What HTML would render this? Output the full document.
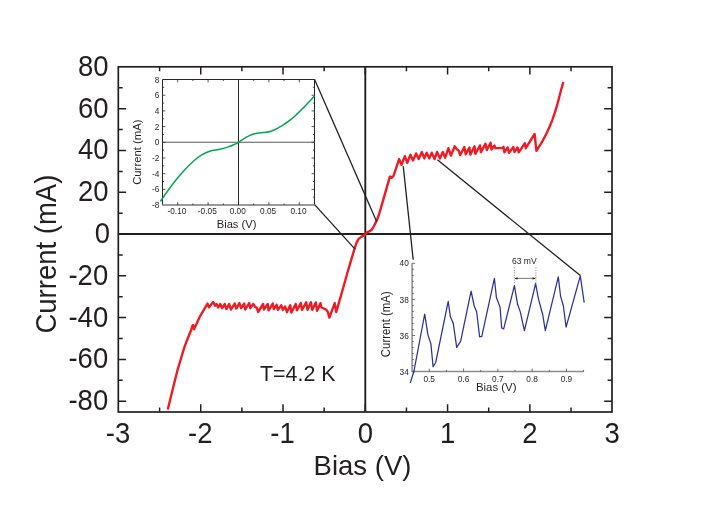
<!DOCTYPE html>
<html><head><meta charset="utf-8"><title>IV curve</title>
<style>html,body{margin:0;padding:0;background:#fff}body{width:708px;height:522px;overflow:hidden}</style></head>
<body>
<svg width="708" height="522" viewBox="0 0 708 522" style="display:block;will-change:transform;font-family:'Liberation Sans',sans-serif">
<rect width="708" height="522" fill="#fff"/>
<rect x="118.3" y="66.8" width="493.7" height="345.2" fill="none" stroke="#231f20" stroke-width="1.7"/>
<line x1="365.3" y1="66.8" x2="365.3" y2="412.0" stroke="#231f20" stroke-width="1.9"/>
<line x1="118.3" y1="234.05" x2="612.0" y2="234.05" stroke="#231f20" stroke-width="1.9"/>
<path d="M159.60 412.0v-4.4 M159.60 66.8v4.4 M200.74 412.0v-7.8 M200.74 66.8v7.8 M241.88 412.0v-4.4 M241.88 66.8v4.4 M283.02 412.0v-7.8 M283.02 66.8v7.8 M324.16 412.0v-4.4 M324.16 66.8v4.4 M365.30 412.0v-7.8 M365.30 66.8v7.8 M406.44 412.0v-4.4 M406.44 66.8v4.4 M447.58 412.0v-7.8 M447.58 66.8v7.8 M488.72 412.0v-4.4 M488.72 66.8v4.4 M529.86 412.0v-7.8 M529.86 66.8v7.8 M571.00 412.0v-4.4 M571.00 66.8v4.4 M118.3 401.17h7.8 M612.0 401.17h-7.8 M118.3 380.28h4.4 M612.0 380.28h-4.4 M118.3 359.39h7.8 M612.0 359.39h-7.8 M118.3 338.50h4.4 M612.0 338.50h-4.4 M118.3 317.61h7.8 M612.0 317.61h-7.8 M118.3 296.72h4.4 M612.0 296.72h-4.4 M118.3 275.83h7.8 M612.0 275.83h-7.8 M118.3 254.94h4.4 M612.0 254.94h-4.4 M118.3 234.05h7.8 M612.0 234.05h-7.8 M118.3 213.16h4.4 M612.0 213.16h-4.4 M118.3 192.27h7.8 M612.0 192.27h-7.8 M118.3 171.38h4.4 M612.0 171.38h-4.4 M118.3 150.49h7.8 M612.0 150.49h-7.8 M118.3 129.60h4.4 M612.0 129.60h-4.4 M118.3 108.71h7.8 M612.0 108.71h-7.8 M118.3 87.82h4.4 M612.0 87.82h-4.4" stroke="#231f20" stroke-width="1.5" fill="none"/>
<g font-size="27.5" fill="#231f20">
<text transform="translate(117.96 443.0) scale(1 1.075)" text-anchor="middle">-3</text>
<text transform="translate(200.24 443.0) scale(1 1.075)" text-anchor="middle">-2</text>
<text transform="translate(282.52 443.0) scale(1 1.075)" text-anchor="middle">-1</text>
<text transform="translate(365.30 443.0) scale(1 1.075)" text-anchor="middle">0</text>
<text transform="translate(447.58 443.0) scale(1 1.075)" text-anchor="middle">1</text>
<text transform="translate(529.86 443.0) scale(1 1.075)" text-anchor="middle">2</text>
<text transform="translate(612.14 443.0) scale(1 1.075)" text-anchor="middle">3</text>
<text transform="translate(108.2 410.07) scale(1 1.085)" text-anchor="end">-80</text>
<text transform="translate(108.2 368.29) scale(1 1.085)" text-anchor="end">-60</text>
<text transform="translate(108.2 326.51) scale(1 1.085)" text-anchor="end">-40</text>
<text transform="translate(108.2 284.73) scale(1 1.085)" text-anchor="end">-20</text>
<text transform="translate(110.1 242.95) scale(1 1.085)" text-anchor="end">0</text>
<text transform="translate(108.6 201.17) scale(1 1.085)" text-anchor="end">20</text>
<text transform="translate(108.6 159.39) scale(1 1.085)" text-anchor="end">40</text>
<text transform="translate(108.6 117.61) scale(1 1.085)" text-anchor="end">60</text>
<text transform="translate(108.6 75.83) scale(1 1.085)" text-anchor="end">80</text>
</g>
<text transform="translate(362.5 475.4) scale(1 1.03)" font-size="27.5" text-anchor="middle" fill="#231f20">Bias (V)</text>
<text transform="translate(55.9 254.1) rotate(-90) scale(1 1.06)" font-size="27.5" text-anchor="middle" fill="#231f20">Current (mA)</text>
<text x="260" y="380.9" font-size="21.4" fill="#231f20">T=4.2 K</text>
<polyline points="167.8,409.5 172.7,389.3 177.8,369.0 184.5,346.9 186.2,342.3 191.2,329.7 192.3,326.2 193.0,325.0 193.6,326.0 194.0,329.3 200.0,316.3 207.5,303.6 208.9,307.4 213.1,301.9 215.1,305.7 216.5,304.0 218.2,307.4 220.3,304.0 222.2,308.2 224.7,304.0 226.4,309.1 229.2,304.0 230.9,309.5 234.7,303.6 236.3,308.6 239.4,303.1 241.1,308.2 244.1,303.6 245.3,309.5 249.2,303.1 250.4,308.2 253.2,304.0 255.1,306.9 256.8,307.8 258.1,312.0 263.1,304.0 263.9,309.5 267.7,304.0 268.6,310.3 272.8,303.6 273.8,309.1 276.6,304.8 277.9,309.9 281.3,305.3 282.8,309.9 285.1,306.5 287.0,312.0 290.2,305.3 291.4,312.5 295.7,304.0 296.9,310.3 300.8,303.1 302.0,309.9 306.2,302.3 307.5,309.8 310.9,302.3 312.3,309.8 315.8,302.4 317.1,310.8 320.5,303.2 321.5,307.5 326.2,309.6 327.9,312.1 329.4,317.6 334.7,303.2 336.2,312.1 344.0,285.0 347.1,273.8 351.1,260.2 354.5,248.9 356.7,242.3 358.6,238.9 361.2,236.9 363.5,235.5 365.4,233.9 367.5,232.1 369.7,231.2 371.8,229.7 373.7,226.5 375.4,223.1 377.1,219.7 378.8,215.0 382.1,203.8 389.8,176.9 390.4,176.6 391.6,177.9 393.4,176.2 399.1,159.1 401.5,164.8 404.8,156.2 407.2,162.9 410.4,154.8 413.0,160.5 416.1,153.4 418.7,159.1 421.8,152.0 424.3,158.4 426.7,152.7 429.3,158.4 431.7,152.7 434.5,159.1 437.1,152.0 439.9,158.4 442.8,152.0 445.2,157.7 448.4,148.2 450.9,155.5 454.7,146.3 456.4,148.9 458.6,150.4 460.2,155.0 464.3,147.1 465.7,154.2 469.4,147.6 470.3,154.6 474.5,146.2 475.4,153.8 480.0,145.4 480.9,152.1 485.5,143.7 486.8,150.0 490.6,142.8 491.5,149.5 494.4,145.4 495.3,148.1 502.2,148.1 503.5,146.8 504.4,152.4 507.7,147.4 509.0,152.9 513.3,147.0 514.5,152.0 517.5,147.4 518.8,152.4 524.9,143.2 525.8,148.2 534.6,134.0 536.4,150.8 536.9,150.0 537.6,149.0 538.4,147.7 539.3,146.3 540.2,144.9 541.0,143.6 541.7,142.3 542.5,141.0 543.2,139.7 543.9,138.4 544.6,137.1 545.3,135.8 546.0,134.5 546.6,133.2 547.2,131.9 547.8,130.6 548.4,129.3 549.0,128.0 549.6,126.7 550.2,125.3 550.7,124.0 551.3,122.6 551.9,121.2 552.4,119.8 552.9,118.4 553.4,116.9 553.9,115.4 554.4,113.9 554.9,112.4 555.4,110.8 555.9,109.2 556.4,107.5 556.9,105.8 557.4,104.1 557.8,102.3 558.3,100.6 558.8,98.9 559.2,97.1 559.7,95.3 560.1,93.6 560.6,91.9 561.0,90.3 561.4,88.7 561.9,87.1 562.3,85.5 562.7,84.1 563.1,82.9 563.3,82.0" fill="none" stroke="#ed1c24" stroke-width="2.4" stroke-linejoin="round"/>
<g stroke="#231f20" stroke-width="1.3" fill="none">
<line x1="314.5" y1="79.3" x2="376.6" y2="221.4"/>
<line x1="314.4" y1="204.4" x2="354.8" y2="248.9"/>
<line x1="403.25" y1="166.3" x2="413.2" y2="259.8"/>
<line x1="437.4" y1="159.8" x2="580.3" y2="275.5"/>
</g>
<path d="M162.5 205.0V79.5H314.5V205.0" fill="none" stroke="#2b2627" stroke-width="1"/>
<line x1="162.0" y1="205.0" x2="315.0" y2="205.0" stroke="#77787b" stroke-width="1.5"/>
<line x1="238.5" y1="79.5" x2="238.5" y2="205.0" stroke="#2b2627" stroke-width="1"/>
<line x1="162.5" y1="142.3" x2="314.5" y2="142.3" stroke="#58595b" stroke-width="1.1"/>
<path d="M177.70 205.0v-2.9 M177.70 79.5v2.9 M192.90 205.0v-1.6 M192.90 79.5v1.6 M208.10 205.0v-2.9 M208.10 79.5v2.9 M223.30 205.0v-1.6 M223.30 79.5v1.6 M238.50 205.0v-2.9 M238.50 79.5v2.9 M253.70 205.0v-1.6 M253.70 79.5v1.6 M268.90 205.0v-2.9 M268.90 79.5v2.9 M284.10 205.0v-1.6 M284.10 79.5v1.6 M299.30 205.0v-2.9 M299.30 79.5v2.9 M162.5 197.21h1.6 M314.5 197.21h-1.6 M162.5 189.36h2.9 M314.5 189.36h-2.9 M162.5 181.52h1.6 M314.5 181.52h-1.6 M162.5 173.68h2.9 M314.5 173.68h-2.9 M162.5 165.83h1.6 M314.5 165.83h-1.6 M162.5 157.99h2.9 M314.5 157.99h-2.9 M162.5 150.14h1.6 M314.5 150.14h-1.6 M162.5 142.30h2.9 M314.5 142.30h-2.9 M162.5 134.46h1.6 M314.5 134.46h-1.6 M162.5 126.61h2.9 M314.5 126.61h-2.9 M162.5 118.77h1.6 M314.5 118.77h-1.6 M162.5 110.93h2.9 M314.5 110.93h-2.9 M162.5 103.08h1.6 M314.5 103.08h-1.6 M162.5 95.24h2.9 M314.5 95.24h-2.9 M162.5 87.39h1.6 M314.5 87.39h-1.6" stroke="#2b2627" stroke-width="0.8" fill="none"/>
<g font-size="8.3" fill="#231f20">
<text transform="translate(176.90 214.4) scale(1 1.08)" text-anchor="middle">-0.10</text>
<text transform="translate(207.30 214.4) scale(1 1.08)" text-anchor="middle">-0.05</text>
<text transform="translate(237.70 214.4) scale(1 1.08)" text-anchor="middle">0.00</text>
<text transform="translate(268.10 214.4) scale(1 1.08)" text-anchor="middle">0.05</text>
<text transform="translate(298.50 214.4) scale(1 1.08)" text-anchor="middle">0.10</text>
<text transform="translate(159.4 208.05) scale(1 1.17)" text-anchor="end">-8</text>
<text transform="translate(159.4 192.36) scale(1 1.17)" text-anchor="end">-6</text>
<text transform="translate(159.4 176.68) scale(1 1.17)" text-anchor="end">-4</text>
<text transform="translate(159.4 160.99) scale(1 1.17)" text-anchor="end">-2</text>
<text transform="translate(159.4 145.30) scale(1 1.17)" text-anchor="end">0</text>
<text transform="translate(159.4 129.61) scale(1 1.17)" text-anchor="end">2</text>
<text transform="translate(159.4 113.93) scale(1 1.17)" text-anchor="end">4</text>
<text transform="translate(159.4 98.24) scale(1 1.17)" text-anchor="end">6</text>
<text transform="translate(159.4 82.55) scale(1 1.17)" text-anchor="end">8</text>
</g>
<text x="236.6" y="228" font-size="11.2" text-anchor="middle" fill="#231f20">Bias (V)</text>
<text transform="translate(141.3 152.2) rotate(-90) scale(1 1.04)" font-size="11.3" text-anchor="middle" fill="#231f20">Current (mA)</text>
<path d="M160.3 201.4C161.5 199.7 164.9 194.7 167.5 191.2C170.1 187.7 173.0 183.7 175.8 180.2C178.6 176.7 181.5 173.4 184.3 170.3C187.1 167.2 190.0 164.2 192.8 161.7C195.6 159.2 198.5 156.9 201.3 155.2C204.1 153.4 206.6 152.2 209.7 151.2C212.8 150.2 216.8 150.0 219.9 149.3C223.0 148.6 226.1 147.7 228.4 146.9C230.7 146.2 231.9 145.6 233.6 144.8C235.3 144.0 236.9 143.3 238.6 142.3C240.3 141.3 242.3 139.7 244.0 138.6C245.7 137.5 247.4 136.6 248.9 135.9C250.4 135.2 251.6 134.6 253.0 134.2C254.4 133.8 255.7 133.5 257.4 133.2C259.1 132.9 261.3 132.8 263.3 132.6C265.3 132.4 267.3 132.3 269.2 131.8C271.1 131.3 272.8 130.6 274.5 129.8C276.2 129.0 277.6 128.2 279.4 127.2C281.2 126.2 283.3 124.8 285.3 123.5C287.3 122.2 289.3 120.7 291.3 119.1C293.3 117.5 295.2 115.7 297.2 113.9C299.2 112.1 301.2 110.1 303.1 108.1C305.1 106.1 307.0 104.0 308.9 102.0C310.8 100.0 313.6 97.0 314.5 96.0" fill="none" stroke="#00a651" stroke-width="1.5"/>
<path d="M412.1 263.3V371.6H583.9" stroke="#8c8c8e" stroke-width="1.5" fill="none"/>
<path d="M412.1 371.60h3.0 M412.1 365.58h1.7 M412.1 359.57h1.7 M412.1 353.55h1.7 M412.1 347.53h1.7 M412.1 341.52h1.7 M412.1 335.50h3.0 M412.1 329.48h1.7 M412.1 323.47h1.7 M412.1 317.45h1.7 M412.1 311.43h1.7 M412.1 305.42h1.7 M412.1 299.40h3.0 M412.1 293.38h1.7 M412.1 287.37h1.7 M412.1 281.35h1.7 M412.1 275.33h1.7 M412.1 269.32h1.7 M412.1 263.30h3.0 M429.25 371.6v-3.0 M446.40 371.6v-1.7 M463.55 371.6v-3.0 M480.70 371.6v-1.7 M497.85 371.6v-3.0 M515.00 371.6v-1.7 M532.15 371.6v-3.0 M549.30 371.6v-1.7 M566.45 371.6v-3.0 M583.60 371.6v-1.7" stroke="#4d4d4f" stroke-width="0.8" fill="none"/>
<g font-size="8.3" fill="#231f20">
<text transform="translate(429.20 382.0) scale(1 1.15)" text-anchor="middle">0.5</text>
<text transform="translate(463.50 382.0) scale(1 1.15)" text-anchor="middle">0.6</text>
<text transform="translate(497.80 382.0) scale(1 1.15)" text-anchor="middle">0.7</text>
<text transform="translate(532.10 382.0) scale(1 1.15)" text-anchor="middle">0.8</text>
<text transform="translate(566.40 382.0) scale(1 1.15)" text-anchor="middle">0.9</text>
<text transform="translate(408.8 374.70) scale(1 1.17)" text-anchor="end">34</text>
<text transform="translate(408.8 338.60) scale(1 1.17)" text-anchor="end">36</text>
<text transform="translate(408.8 302.50) scale(1 1.17)" text-anchor="end">38</text>
<text transform="translate(408.8 266.40) scale(1 1.17)" text-anchor="end">40</text>
</g>
<text transform="translate(496.2 391.4) scale(1 1.03)" font-size="11.4" text-anchor="middle" fill="#231f20">Bias (V)</text>
<text transform="translate(389.9 324.2) rotate(-90) scale(1 1.04)" font-size="11.4" text-anchor="middle" fill="#231f20">Current (mA)</text>
<polyline points="410.3,382.9 414.0,371.0 424.7,314.2 427.9,334.6 430.9,343.9 433.1,366.8 435.7,362.5 448.2,301.3 450.4,316.8 453.3,323.6 456.7,347.3 460.6,341.4 471.1,291.1 474.2,306.0 476.7,312.0 479.6,336.8 481.8,336.3 494.4,278.4 496.4,297.5 500.0,306.9 501.7,328.0 503.7,328.9 514.4,285.7 517.6,304.3 520.3,311.9 524.4,330.6 535.6,283.6 538.5,299.2 542.7,314.5 545.3,330.6 558.3,276.9 560.5,295.8 563.4,306.0 566.1,327.2 580.3,275.8 584.2,302.6" fill="none" stroke="#2e3192" stroke-width="1.25" stroke-linejoin="round"/>
<text transform="translate(524.3 264.1) scale(1 1.13)" font-size="8.6" text-anchor="middle" fill="#231f20">63 mV</text>
<path d="M514.3 267.6V284.5M535.9 267.6V284.5" stroke="#58595b" stroke-width="0.8" stroke-dasharray="0.9 1.5" fill="none"/>
<path d="M515 278.4H535.2" stroke="#231f20" stroke-width="0.6" fill="none"/>
<path d="M514.4 278.4l3.2 -1.2v2.4zM535.8 278.4l-3.2 -1.2v2.4z" fill="#231f20"/>
</svg>
</body></html>
